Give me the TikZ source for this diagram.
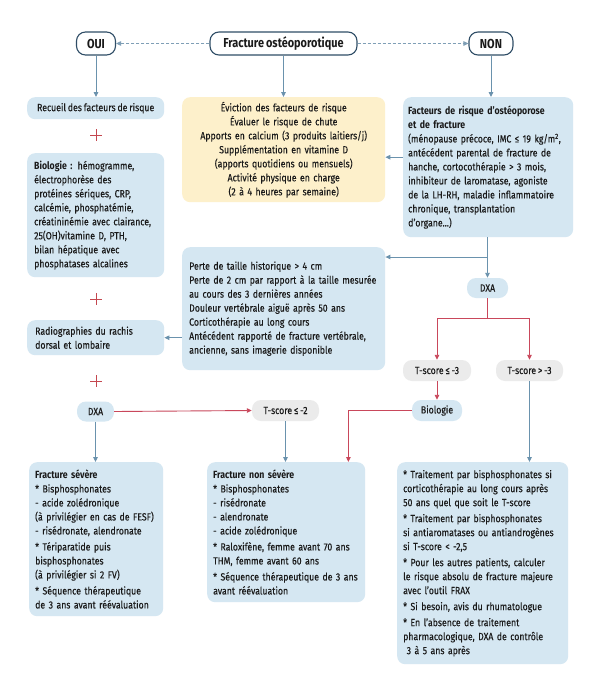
\documentclass[tikz,border=0pt]{standalone}
\usepackage{fontspec}
\setmainfont{Fira Sans}[FakeStretch=0.84, WordSpace=0.8, UprightFeatures={FakeBold=0.25}]
\usetikzlibrary{arrows.meta,calc}
\definecolor{boxblue}{HTML}{D5E7F2}
\definecolor{boxgray}{HTML}{EBEBEB}
\definecolor{boxyellow}{HTML}{FDF0CB}
\definecolor{topblue}{HTML}{2F4D66}
\definecolor{arrblue}{HTML}{6A92AD}
\definecolor{dashblue}{HTML}{7F9FB6}
\definecolor{arrred}{HTML}{C9475B}
\definecolor{plusred}{HTML}{C4474F}
\definecolor{txt}{HTML}{1A1A1A}
\newcommand\bodyfont{\fontsize{10.4}{14}\selectfont}
\newcommand\topfont{\fontsize{13}{14}\selectfont\bfseries}
\newcommand\bul{*}
\begin{document}
\begin{tikzpicture}[x=1pt,y=-1pt,
  bbox/.style={rectangle, rounded corners=8pt, fill=boxblue, inner xsep=7pt, inner ysep=3pt, font=\bodyfont, text=txt},
  ybox/.style={bbox, fill=boxyellow},
  gbox/.style={rectangle, rounded corners=9pt, fill=boxgray, inner sep=0pt, font=\bodyfont, text=txt},
  sbox/.style={gbox, fill=boxblue},
  topnode/.style={rectangle, rounded corners=9pt, draw=topblue, line width=1.1pt, fill=white, font=\topfont, text=txt, minimum height=23pt, inner sep=0pt},
  barrow/.style={draw=arrblue, line width=0.9pt, -{Triangle[length=5pt,width=4.5pt]}},
  rarrow/.style={draw=arrred, line width=0.9pt, -{Triangle[length=5pt,width=4.5pt]}},
  rline/.style={draw=arrred, line width=0.9pt},
  dasharrow/.style={draw=dashblue, line width=0.9pt, dash pattern=on 3pt off 2pt, -{Triangle[length=5pt,width=4.5pt]}},
  plussign/.style={minimum size=12pt, inner sep=0pt, path picture={\draw[plusred, line width=0.9pt] (path picture bounding box.north) -- (path picture bounding box.south) (path picture bounding box.west) -- (path picture bounding box.east);}}
]
\useasboundingbox[fill=white] (0,0) rectangle (600,699);

% top row
\node[topnode, minimum width=39pt] (oui) at (96,43.5) {OUI};
\node[topnode, minimum width=147pt] (frac) at (283.5,43.5) {Fracture ostéoporotique};
\node[topnode, minimum width=44pt] (non) at (491,43.5) {NON};

% left column
\node[bbox, anchor=north west, inner xsep=2pt, minimum width=137pt, minimum height=22pt] (recueil) at (27,97) {Recueil des facteurs de risque};
\node[plussign] (p1) at (96,135) {};
\node[bbox, anchor=north west, text width=123pt, minimum height=124pt, align=left] (bio) at (27,153)
 {\textbf{Biologie :} hémogramme,\\ électrophorèse des\\ protéines sériques, CRP,\\ calcémie, phosphatémie,\\ créatininémie avec clairance,\\ 25(OH)vitamine D, PTH,\\ bilan hépatique avec\\ phosphatases alcalines};
\node[plussign] (p2) at (96,299) {};
\node[bbox, anchor=north west, text width=121pt, inner xsep=8pt, minimum height=35pt, align=left] (radio) at (27,320)
 {Radiographies du rachis\\ dorsal et lombaire};
\node[plussign] (p3) at (96,381) {};

% middle
\node[ybox, anchor=north west, text width=189pt, minimum height=105pt, align=center] (yellow) at (182,97)
 {Éviction des facteurs de risque\\ Évaluer le risque de chute\\ Apports en calcium (3 produits laitiers/j)\\ Supplémentation en vitamine D\\ (apports quotidiens ou mensuels)\\ Activité physique en charge\\ (2 à 4 heures par semaine)};
\node[bbox, anchor=north west, text width=189pt, minimum height=123pt, align=left] (perte) at (182,247)
 {Perte de taille historique > 4 cm\\ Perte de 2 cm par rapport à la taille mesurée\\ au cours des 3 dernières années\\ Douleur vertébrale aiguë après 50 ans\\ Corticothérapie au long cours\\ Antécédent rapporté de fracture vertébrale,\\ ancienne, sans imagerie disponible};

% right
\node[bbox, anchor=north west, text width=160pt, inner xsep=5pt, minimum height=140pt, align=left] (rtop) at (403,97)
 {\textbf{Facteurs de risque d’ostéoporose}\\ \textbf{et de fracture}\\ (ménopause précoce, IMC ≤ 19 kg/m\textsuperscript{2},\\ antécédent parental de fracture de\\ hanche, cortocothérapie > 3 mois,\\ inhibiteur de laromatase, agoniste\\ de la LH-RH, maladie inflammatoire\\ chronique, transplantation\\ d’organe...)};

% small nodes
\node[sbox, minimum width=41pt, minimum height=20pt] (dxaR) at (487.5,288) {DXA};
\node[gbox, minimum width=68pt, minimum height=21pt] (tle3) at (437,370.5) {T-score ≤ -3};
\node[gbox, minimum width=67pt, minimum height=21pt] (tgt3) at (529.5,370.5) {T-score > -3};
\node[sbox, minimum width=50pt, minimum height=21pt] (bioS) at (437,410.5) {Biologie};
\node[sbox, minimum width=37pt, minimum height=20pt] (dxaL) at (95.5,411.5) {DXA};
\node[gbox, minimum width=67pt, minimum height=21pt] (tle2) at (285.5,410.5) {T-score ≤ -2};

% bottom boxes
\node[bbox, anchor=north west, text width=122pt, inner xsep=6pt, minimum height=154pt, align=left] (sev) at (29,462)
 {\textbf{Fracture sévère}\\ \bul\ Bisphosphonates\\ - acide zolédronique\\ (à privilégier en cas de FESF)\\ - risédronate, alendronate\\[2pt] \bul\ Tériparatide puis\\ bisphosphonates\\ (à privilégier si 2 FV)\\[2pt] \bul\ Séquence thérapeutique\\ de 3 ans avant réévaluation};
\node[bbox, anchor=north west, text width=146pt, inner xsep=6pt, minimum height=140pt, align=left] (nonsev) at (207,462)
 {\textbf{Fracture non sévère}\\ \bul\ Bisphosphonates\\ - risédronate\\ - alendronate\\ - acide zolédronique\\[2pt] \bul\ Raloxifène, femme avant 70 ans\\ THM, femme avant 60 ans\\[2pt] \bul\ Séquence thérapeutique de 3 ans\\ avant réévaluation};
\node[bbox, anchor=north west, text width=159pt, inner xsep=6pt, minimum height=202pt, align=left] (rb) at (397,462)
 {\bul\ Traitement par bisphosphonates si\\ corticothérapie au long cours après\\ 50 ans quel que soit le T-score\\[2pt] \bul\ Traitement par bisphosphonates\\ si antiaromatases ou antiandrogènes\\ si T-score < -2,5\\[2pt] \bul\ Pour les autres patients, calculer\\ le risque absolu de fracture majeure\\ avec l’outil FRAX\\[2pt] \bul\ Si besoin, avis du rhumatologue\\[2pt] \bul\ En l’absence de traitement\\ pharmacologique, DXA de contrôle\\ \ 3 à 5 ans après};

% connectors
\draw[dasharrow] (frac.west) -- (oui.east);
\draw[dasharrow] (frac.east) -- (non.west);
\draw[barrow] (oui.south) -- (recueil.north -| oui.south);
\draw[barrow] (frac.south) -- (yellow.north -| frac.south);
\draw[barrow] (non.south) -- (rtop.north -| non.south);
\draw[barrow] ([yshift=10pt]rtop.west) -- ([yshift=10pt]rtop.west -| yellow.east);
\draw[barrow] (rtop.south -| dxaR.north) -- (dxaR.north);
\coordinate (br) at (487.5,257);
\draw[barrow] (br) -- (br -| perte.east);
\draw[barrow] (perte.west |- radio.east) -- (radio.east);
\coordinate (rsplit) at (487.5,318);
\draw[rline] (dxaR.south) -- (rsplit);
\draw[rarrow] (rsplit) -| (tle3.north);
\draw[rarrow] (rsplit) -| (tgt3.north);
\draw[rarrow] (tle3.south) -- (bioS.north);
\draw[rarrow] (bioS.west) -| ([xshift=-17pt]nonsev.north east);
\draw[barrow] (tgt3.south) -- (tgt3.south |- rb.north);
\draw[rarrow] (dxaL.east) -- (tle2.west);
\draw[barrow] (dxaL.south) -- (dxaL.south |- sev.north);
\draw[barrow] (tle2.south) -- (tle2.south |- nonsev.north);
\end{tikzpicture}
\end{document}
